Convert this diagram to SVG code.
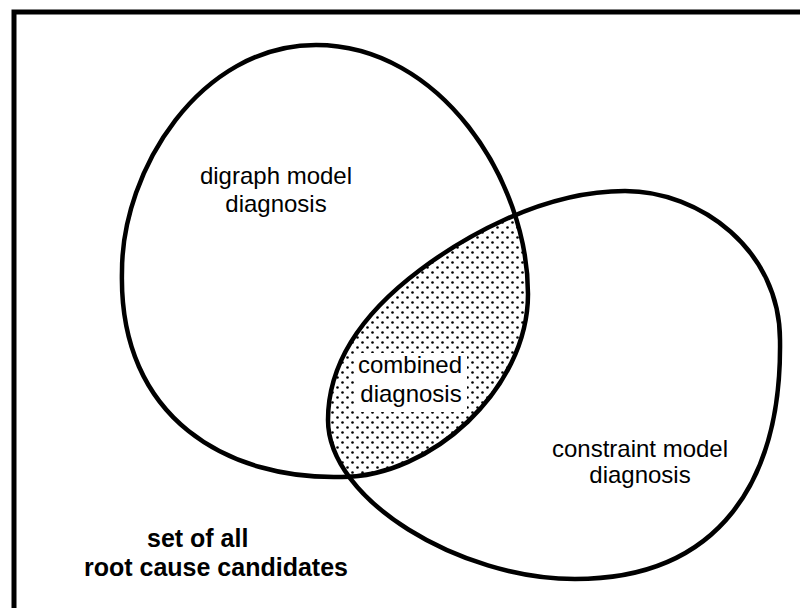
<svg xmlns="http://www.w3.org/2000/svg" width="800" height="608" viewBox="0 0 800 608">
  <style>
    .outline { fill: none; stroke: #000; stroke-width: 4.5; stroke-linejoin: round; }
    .label { font-family: "Liberation Sans", Arial, Helvetica, sans-serif; font-size: 24px; fill: #000; text-anchor: middle; }
    .bold { font-weight: bold; font-size: 25px; text-anchor: start; }
  </style>
  <defs>
    <!-- stipple used for the overlap -->
    <pattern id="stipple" patternUnits="userSpaceOnUse" width="10" height="10">
      <circle cx="2.5" cy="2.5" r="1.3" fill="#000"/>
      <circle cx="7.5" cy="7.5" r="1.3" fill="#000"/>
    </pattern>
    <path id="digraphShape" d="M316,45 C440,45 528,180 528,294 C528,390 430,477 342,477 C230,480 118,420 122,271 C122,170 200,45 316,45 Z"/>
    <path id="constraintShape" d="M625,191 C700,191 780,250 780,340 C782,480 720,579 575,579 C460,579 328,500 328,420 C328,350 380,300 420,270 C460,240 540,191 625,191 Z"/>
    <clipPath id="constraintClip">
      <use href="#constraintShape"/>
    </clipPath>
  </defs>

  <rect width="800" height="608" fill="#fff"/>

  <!-- universe frame: runs off the right and bottom edges -->
  <rect id="frame" x="14" y="12" width="800" height="610" fill="none" stroke="#000" stroke-width="5"/>

  <!-- overlap of the two diagnoses -->
  <g id="combined">
    <use href="#digraphShape" fill="url(#stipple)" clip-path="url(#constraintClip)"/>
    <rect x="354" y="353" width="113" height="59" fill="#fff"/>
    <text class="label" x="410" y="373">combined</text>
    <text class="label" x="411" y="402">diagnosis</text>
  </g>

  <g id="digraph">
    <use href="#digraphShape" class="outline"/>
    <text class="label" x="276" y="184">digraph model</text>
    <text class="label" x="276" y="212">diagnosis</text>
  </g>

  <g id="constraint">
    <use href="#constraintShape" class="outline"/>
    <text class="label" x="640" y="457">constraint model</text>
    <text class="label" x="640" y="483">diagnosis</text>
  </g>

  <g id="universe-label">
    <text class="label bold" x="147" y="547">set of all</text>
    <text class="label bold" x="84" y="576">root cause candidates</text>
  </g>
</svg>
